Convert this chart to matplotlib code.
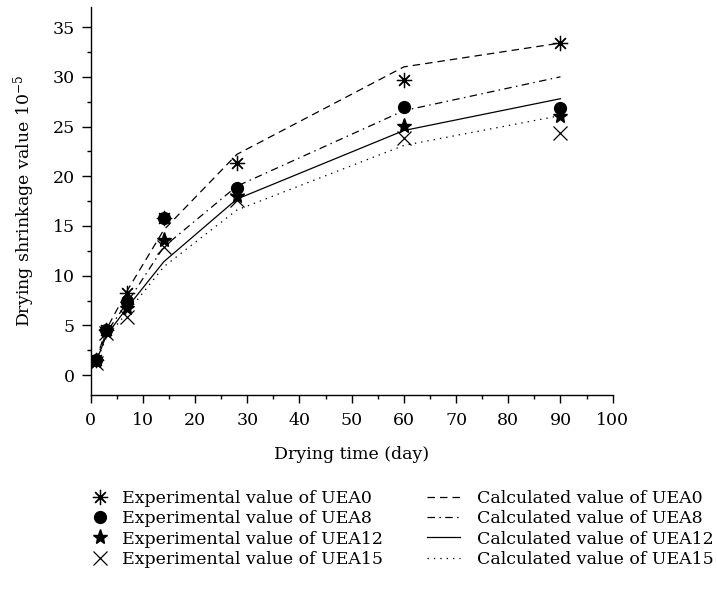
import matplotlib
matplotlib.use("Agg")
import matplotlib.pyplot as plt
from matplotlib.ticker import MultipleLocator

plt.rcParams['font.family'] = ['DejaVu Serif']
plt.rcParams['mathtext.fontset'] = 'dejavuserif'

days = [1, 3, 7, 14, 28, 60, 90]

exp_uea0 = [1.5, 4.5, 8.3, 15.8, 21.3, 29.7, 33.4]
exp_uea8 = [1.5, 4.5, 7.4, 15.8, 18.8, 27.0, 26.9]
exp_uea12 = [1.4, 4.4, 6.7, 13.6, 18.0, 25.1, 26.1]
exp_uea15 = [1.2, 4.2, 5.8, 12.9, 17.6, 23.8, 24.3]

calc_uea0 = [1.5, 4.6, 8.5, 14.6, 22.2, 31.0, 33.4]
calc_uea8 = [1.4, 4.3, 7.3, 12.9, 19.0, 26.6, 30.0]
calc_uea12 = [1.3, 4.0, 6.8, 11.4, 17.7, 24.6, 27.8]
calc_uea15 = [1.2, 3.8, 6.3, 10.9, 16.6, 23.1, 26.1]

labels_exp = ["Experimental value of UEA0", "Experimental value of UEA8",
              "Experimental value of UEA12", "Experimental value of UEA15"]
labels_calc = ["Calculated value of UEA0", "Calculated value of UEA8",
               "Calculated value of UEA12", "Calculated value of UEA15"]

FS = 12.5

fig = plt.figure(figsize=(7.17, 5.92), dpi=100)
ax = fig.add_axes([0.1265, 0.3328, 0.728, 0.655])

lw = 0.9
l0, = ax.plot(days, calc_uea0, color='black', lw=lw, dashes=(6, 4))
l1, = ax.plot(days, calc_uea8, color='black', lw=lw, dashes=(6, 3.5, 1.2, 3.5))
l2, = ax.plot(days, calc_uea12, color='black', lw=lw, linestyle='-')
l3, = ax.plot(days, calc_uea15, color='black', lw=lw, dashes=(1.1, 4))

m0, = ax.plot(days, exp_uea0, linestyle='none', marker=(8, 2, 0), ms=11, mec='black', mew=0.9)
m1, = ax.plot(days, exp_uea8, linestyle='none', marker='o', ms=8.5, mfc='black', mec='black')
m2, = ax.plot(days, exp_uea12, linestyle='none', marker='*', ms=11, mfc='black', mec='black')
m3, = ax.plot(days, exp_uea15, linestyle='none', marker='x', ms=10, mec='black', mew=0.9)

ax.set_xlim(0, 100)
ax.set_ylim(-2, 37)
ax.xaxis.set_major_locator(MultipleLocator(10))
ax.xaxis.set_minor_locator(MultipleLocator(5))
ax.yaxis.set_major_locator(MultipleLocator(5))
ax.yaxis.set_minor_locator(MultipleLocator(2.5))
ax.spines['top'].set_visible(False)
ax.spines['right'].set_visible(False)
for s in ('left', 'bottom'):
    ax.spines[s].set_linewidth(1.0)
ax.tick_params(which='major', direction='out', width=1.0, labelsize=FS, colors='black')
ax.tick_params(axis='x', which='major', length=5.5, pad=7)
ax.tick_params(axis='y', which='major', length=6.5, pad=5)
ax.tick_params(which='minor', direction='out', length=3, width=1.0)

ax.set_xlabel("Drying time (day)", fontsize=FS, labelpad=12)
ax.set_ylabel(r"Drying shrinkage value 10$^{-5}$", fontsize=FS, labelpad=11)

leg1 = fig.legend([m0, m1, m2, m3], labels_exp, loc='upper left',
                  bbox_to_anchor=(0.1273, 0.173), frameon=False, fontsize=FS,
                  handlelength=1.0, handletextpad=0.75, labelspacing=0.2,
                  borderpad=0, borderaxespad=0)
leg2 = fig.legend([l0, l1, l2, l3], labels_calc, loc='upper left',
                  bbox_to_anchor=(0.5955, 0.173), frameon=False, fontsize=FS,
                  handlelength=1.9, handletextpad=1.0, labelspacing=0.2,
                  borderpad=0, borderaxespad=0)

fig.savefig("out.png", dpi=100)
